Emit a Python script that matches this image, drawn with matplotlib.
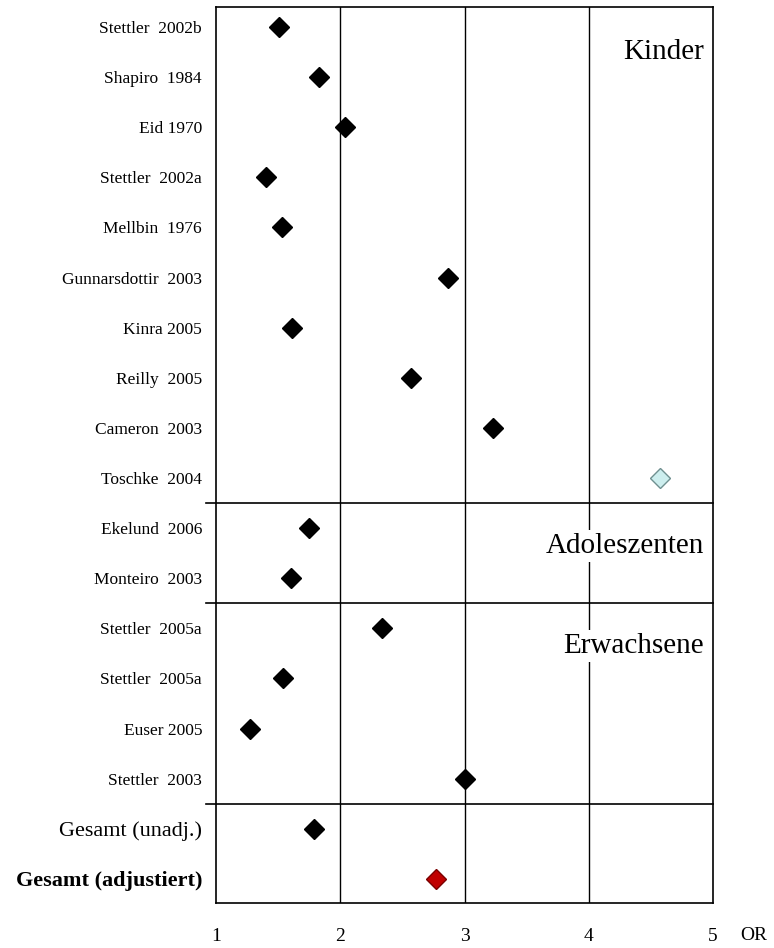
import matplotlib
matplotlib.use("Agg")
import matplotlib.pyplot as plt

# study labels, top to bottom
studies = ["Stettler  2002b", "Shapiro  1984", "Eid 1970", "Stettler  2002a",
           "Mellbin  1976", "Gunnarsdottir  2003", "Kinra 2005", "Reilly  2005",
           "Cameron  2003", "Toschke  2004",
           "Ekelund  2006", "Monteiro  2003",
           "Stettler  2005a", "Stettler  2005a", "Euser 2005", "Stettler  2003",
           "Gesamt (unadj.)", "Gesamt (adjustiert)"]
odds_ratio = [1.51, 1.83, 2.04, 1.40, 1.53, 2.87, 1.61, 2.57, 3.23, 4.57,
              1.75, 1.60, 2.34, 1.54, 1.27, 3.00, 1.79, 2.77]
groups = ["Kinder", "Adoleszenten", "Erwachsene"]
group_ends = [10, 12, 16]   # number of rows up to each separator
x_ticks = [1, 2, 3, 4, 5]

plt.rcParams['font.family'] = ['Liberation Serif', 'DejaVu Serif']

fig = plt.figure(figsize=(7.74, 9.48), dpi=100)
ax = fig.add_axes([216 / 774, 1 - 903 / 948, (713 - 216) / 774, (903 - 7) / 948])

rows = list(range(len(studies)))
for i, (y, v) in enumerate(zip(rows, odds_ratio)):
    if i == 9:
        fc, ec = "#cdeeee", "#6f9090"
    elif i == len(studies) - 1:
        fc, ec = "#c00000", "#7a0000"
    else:
        fc, ec = "black", "black"
    ax.plot(v, y, marker="D", ms=10.5, mfc=fc, mec=ec, mew=1, ls="none", zorder=5)

for x in x_ticks[1:-1]:
    ax.axvline(x, color="black", lw=1, zorder=1)

for e in group_ends:
    ax.axhline(e - 0.5, xmin=-0.02, xmax=1, color="black", lw=1.2, clip_on=False, zorder=1)

ax.set_xlim(1, 5)
ax.set_ylim(len(studies) - 0.52, -0.4)
ax.set_xticks(x_ticks)
ax.set_xticklabels([str(t) for t in x_ticks], fontsize=14)
ax.set_yticks(rows)
ax.set_yticklabels(studies, fontsize=12.5)
for lbl in ax.get_yticklabels()[-2:]:
    lbl.set_fontsize(16)
ax.get_yticklabels()[-1].set_fontweight("bold")
ax.tick_params(axis="x", length=0, pad=18)
ax.tick_params(axis="y", length=0, pad=10)
for s in ax.spines.values():
    s.set_color("black")
    s.set_linewidth(1.2)

fig.text(740 / 774, 1 - 935 / 948, "OR", fontsize=14, va="center", ha="left")

group_y = [0.5, 10.35, 12.35]
for g, y in zip(groups, group_y):
    ax.text(4.93, y, g, fontsize=21, ha="right", va="center", zorder=4,
            bbox=dict(facecolor="white", edgecolor="none", pad=2))

fig.savefig("out.png", dpi=100)
